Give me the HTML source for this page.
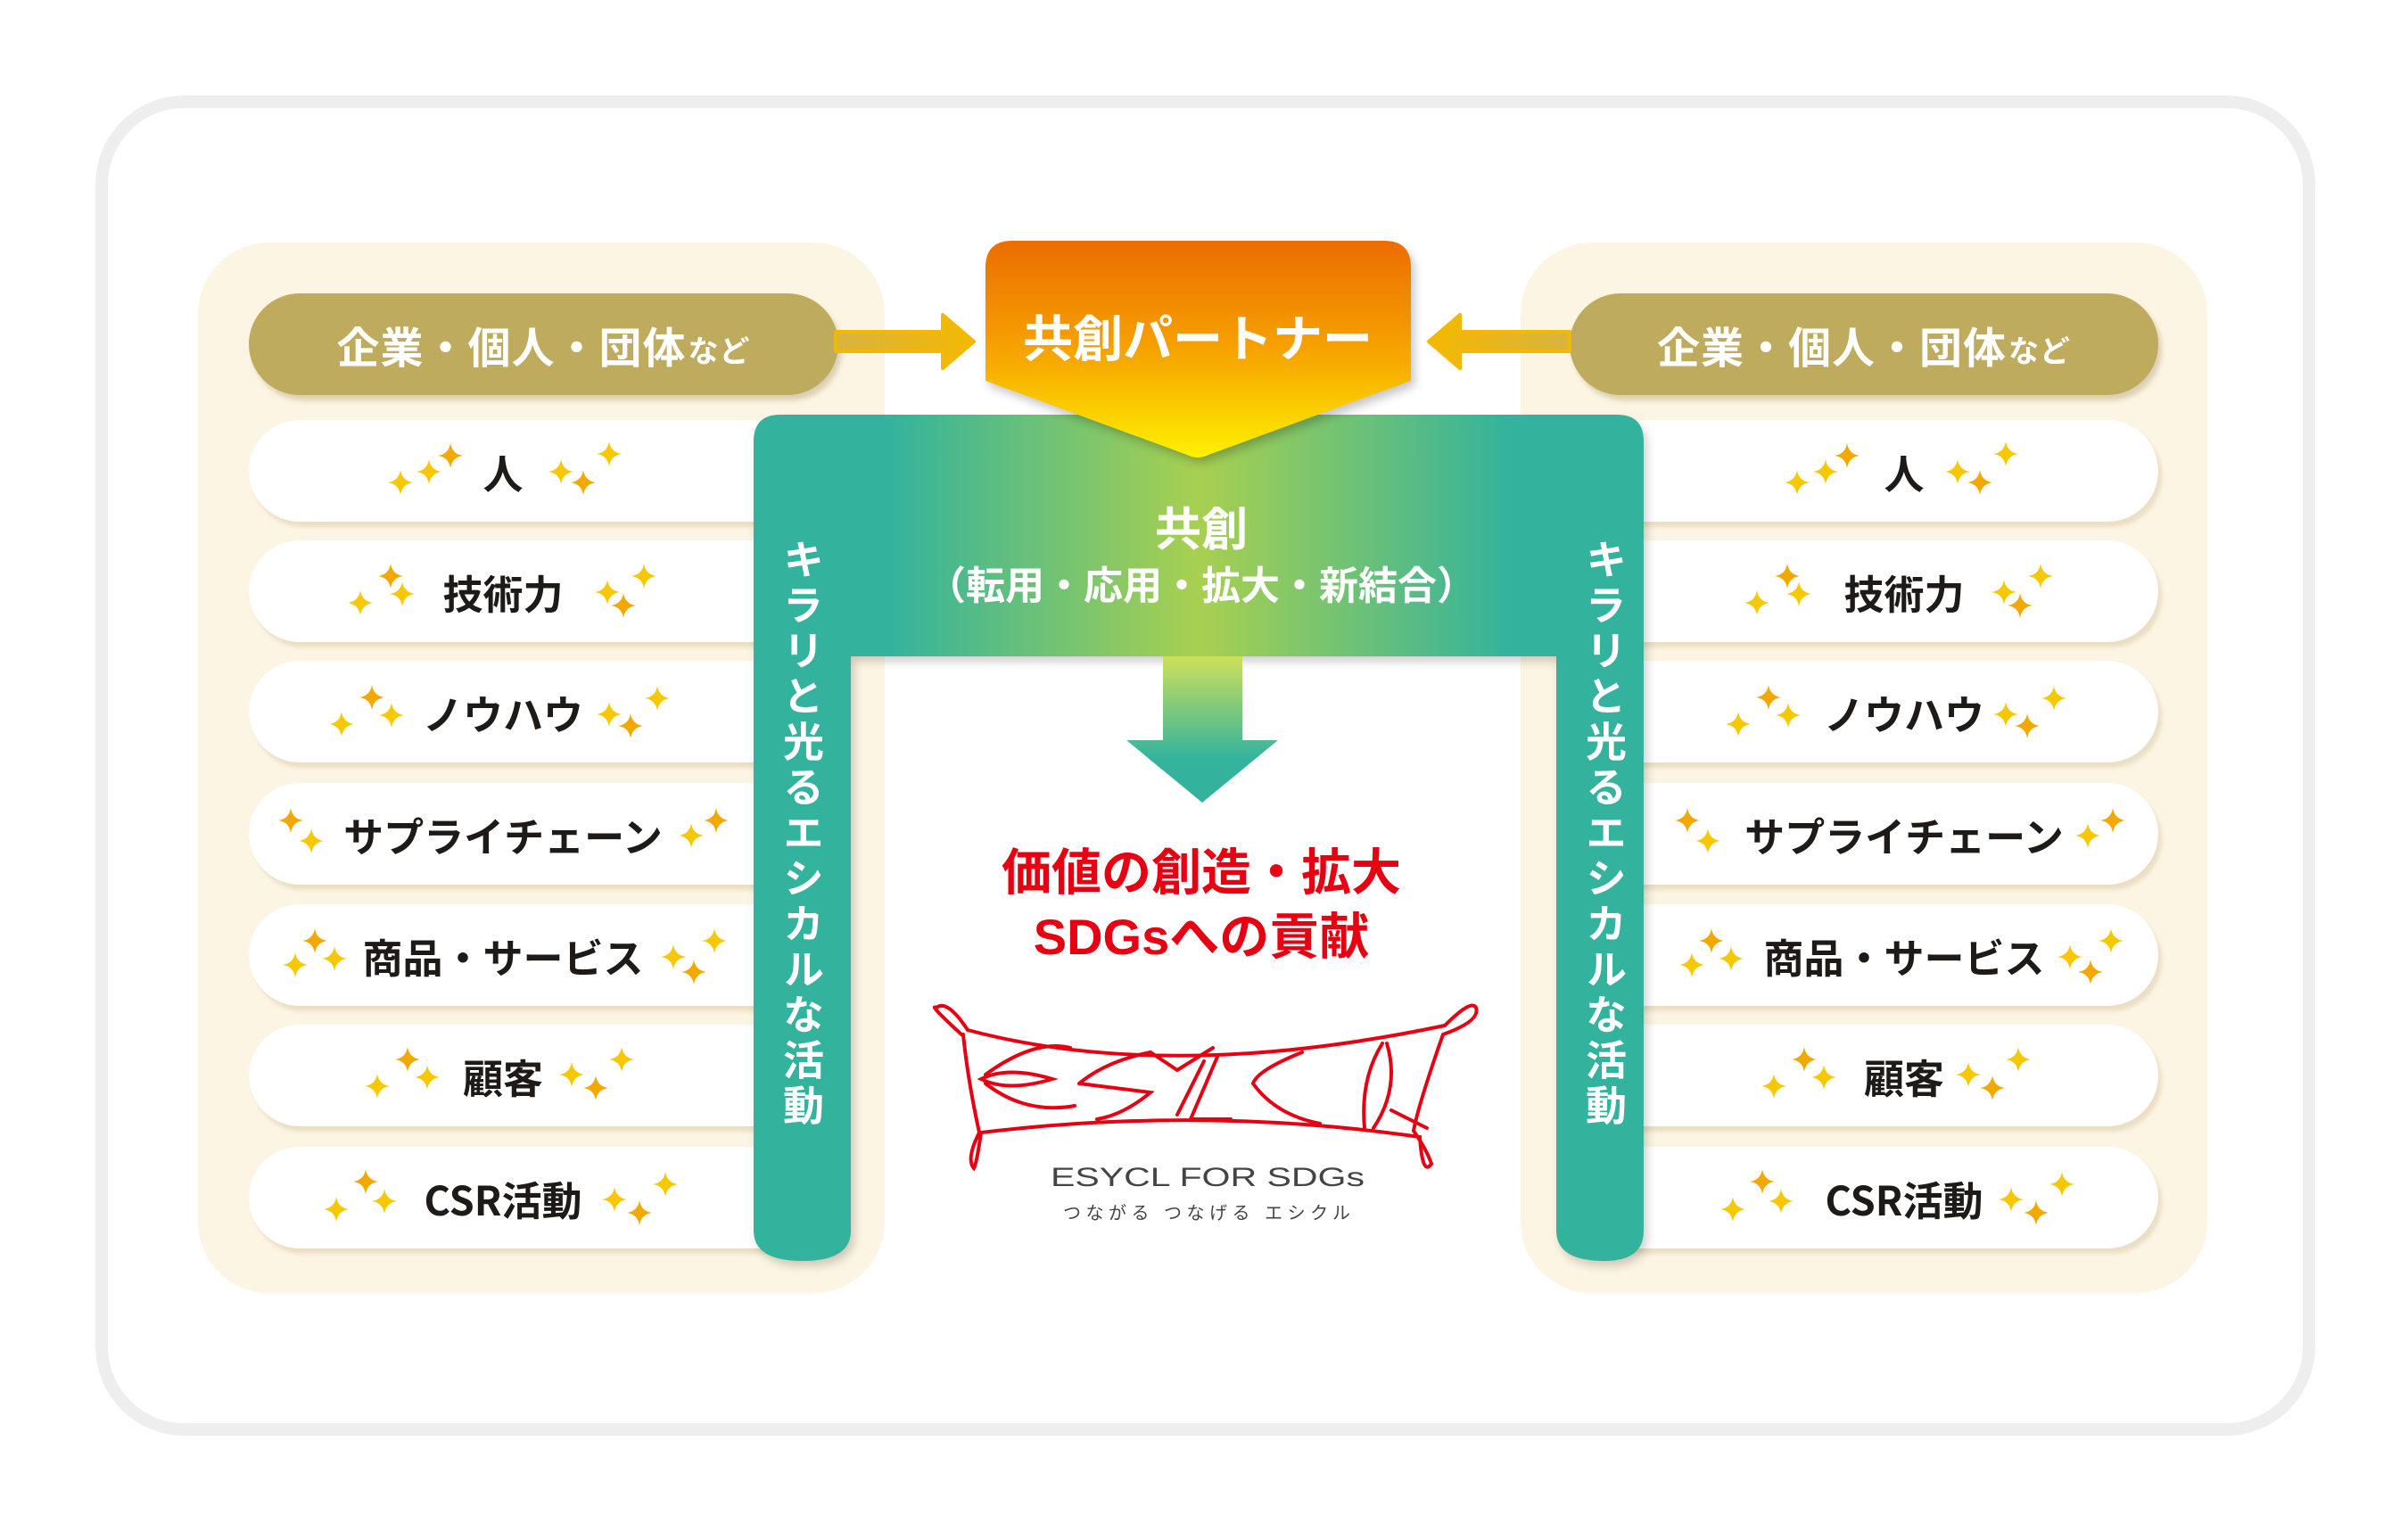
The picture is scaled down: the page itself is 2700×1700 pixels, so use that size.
<!DOCTYPE html>
<html><head><meta charset="utf-8">
<style>
*{margin:0;padding:0;box-sizing:border-box}
body{width:2700px;height:1700px;background:#fff;position:relative;overflow:hidden;font-family:"Liberation Sans","Noto Sans CJK JP",sans-serif}
.abs{position:absolute}
.outer{left:107px;top:107px;width:2489px;height:1503px;border:14px solid #eeeeee;border-radius:100px}
.panel{top:272px;width:770px;height:1178px;background:#fdf5e3;border-radius:80px}
.olive{top:329px;height:114px;background:#bfab5e;border-radius:57px;color:#fff;font-weight:bold;font-size:48px;display:flex;align-items:center;justify-content:center;box-shadow:4px 6px 6px rgba(120,100,40,.25);letter-spacing:1px}
.olive small{font-size:34px;margin-left:2px;margin-top:10px}
.pill{height:114px;background:#fff;border-radius:57px;box-shadow:4px 6px 5px rgba(200,180,140,.35);display:flex;align-items:center;justify-content:center;font-size:45px;font-weight:bold;color:#1e1a18}
.pill .t{position:relative;padding:0 78px;font-family:"Noto Sans CJK JP",sans-serif;font-weight:700}
.vt{writing-mode:vertical-rl;color:#fff;font-size:46px;font-weight:bold;letter-spacing:5px;line-height:1}
</style></head><body>
<svg width="0" height="0" style="position:absolute"><defs>
<symbol id="s" viewBox="-1 -1 2 2"><path d="M0,-1 Q0.13,-0.13 1,0 Q0.13,0.13 0,1 Q-0.13,0.13 -1,0 Q-0.13,-0.13 0,-1Z"/></symbol>
<linearGradient id="og" x1="0" y1="0" x2="0" y2="1"><stop offset="0" stop-color="#ec6c00"/><stop offset="0.55" stop-color="#f6a800"/><stop offset="1" stop-color="#fff100"/></linearGradient>
<linearGradient id="tg" x1="0" y1="0" x2="1" y2="0"><stop offset="0" stop-color="#33b39d"/><stop offset="0.15" stop-color="#33b39d"/><stop offset="0.5" stop-color="#a8d050"/><stop offset="0.85" stop-color="#33b39d"/><stop offset="1" stop-color="#33b39d"/></linearGradient>
<linearGradient id="ag" x1="0" y1="0" x2="0" y2="1"><stop offset="0" stop-color="#cfe05a"/><stop offset="0.7" stop-color="#33b39d"/><stop offset="1" stop-color="#33b39d"/></linearGradient>
<linearGradient id="yl" x1="0" y1="0" x2="1" y2="0"><stop offset="0" stop-color="#d8b440"/><stop offset="1" stop-color="#f4b800"/></linearGradient>
<linearGradient id="yr" x1="1" y1="0" x2="0" y2="0"><stop offset="0" stop-color="#d8b440"/><stop offset="1" stop-color="#f4b800"/></linearGradient>
</defs></svg>

<div class="abs outer"></div>
<div class="abs panel" style="left:222px"></div>
<div class="abs panel" style="left:1705px"></div>

<div class="abs olive" style="left:279px;width:661px">企業・個人・団体<small>など</small></div>
<div class="abs olive" style="left:1760px;width:660px">企業・個人・団体<small>など</small></div>

<svg class="abs" style="left:0;top:0" width="2700" height="1700">
<path d="M937,372 L1057,372 L1057,353 L1092,383 L1057,413 L1057,394 L937,394Z" fill="url(#yl)" stroke="#f4b800" stroke-width="4" stroke-linejoin="round"/>
<path d="M1760,372 L1637,372 L1637,353 L1602,383 L1637,413 L1637,394 L1760,394Z" fill="url(#yr)" stroke="#f4b800" stroke-width="4" stroke-linejoin="round"/>
</svg>

<div class="abs pill" style="left:279px;top:471px;width:660px;padding-right:90px"><span class="t">人</span></div>
<div class="abs pill" style="left:279px;top:606px;width:660px;padding-right:90px"><span class="t">技術力</span></div>
<div class="abs pill" style="left:279px;top:741px;width:660px;padding-right:90px"><span class="t">ノウハウ</span></div>
<div class="abs pill" style="left:279px;top:878px;width:660px;padding-right:90px"><span class="t">サプライチェーン</span></div>
<div class="abs pill" style="left:279px;top:1014px;width:660px;padding-right:90px"><span class="t">商品・サービス</span></div>
<div class="abs pill" style="left:279px;top:1149px;width:660px;padding-right:90px"><span class="t">顧客</span></div>
<div class="abs pill" style="left:279px;top:1286px;width:660px;padding-right:90px"><span class="t">CSR活動</span></div>

<div class="abs pill" style="left:1760px;top:471px;width:660px;padding-left:90px"><span class="t">人</span></div>
<div class="abs pill" style="left:1760px;top:606px;width:660px;padding-left:90px"><span class="t">技術力</span></div>
<div class="abs pill" style="left:1760px;top:741px;width:660px;padding-left:90px"><span class="t">ノウハウ</span></div>
<div class="abs pill" style="left:1760px;top:878px;width:660px;padding-left:90px"><span class="t">サプライチェーン</span></div>
<div class="abs pill" style="left:1760px;top:1014px;width:660px;padding-left:90px"><span class="t">商品・サービス</span></div>
<div class="abs pill" style="left:1760px;top:1149px;width:660px;padding-left:90px"><span class="t">顧客</span></div>
<div class="abs pill" style="left:1760px;top:1286px;width:660px;padding-left:90px"><span class="t">CSR活動</span></div>

<svg class="abs" style="left:0;top:0" width="2700" height="1700">
<g id="sp"><g transform="translate(-3,-4)" fill="#f7c800">
<use href="#s" x="438" y="526" width="28" height="38"/><use href="#s" x="470" y="514" width="28" height="38"/><use href="#s" x="494" y="496" width="28" height="38" fill="#f3a800"/>
<use href="#s" x="618" y="514" width="28" height="38"/><use href="#s" x="643" y="526" width="28" height="38" fill="#f3a800"/><use href="#s" x="672" y="494" width="28" height="38"/>
<use href="#s" x="393" y="661" width="28" height="38"/><use href="#s" x="440" y="651" width="28" height="38"/><use href="#s" x="427" y="631" width="28" height="38" fill="#f3a800"/>
<use href="#s" x="670" y="649" width="28" height="38"/><use href="#s" x="688" y="664" width="28" height="38" fill="#f3a800"/><use href="#s" x="711" y="631" width="28" height="38"/>
<use href="#s" x="372" y="797" width="28" height="38"/><use href="#s" x="428" y="787" width="28" height="38"/><use href="#s" x="406" y="767" width="28" height="38" fill="#f3a800"/>
<use href="#s" x="672" y="786" width="28" height="38"/><use href="#s" x="696" y="799" width="28" height="38" fill="#f3a800"/><use href="#s" x="726" y="768" width="28" height="38"/>
<use href="#s" x="315" y="905" width="28" height="38" fill="#f3a800"/><use href="#s" x="338" y="928" width="28" height="38"/>
<use href="#s" x="764" y="922" width="28" height="38"/><use href="#s" x="792" y="905" width="28" height="38" fill="#f3a800"/>
<use href="#s" x="320" y="1067" width="28" height="38"/><use href="#s" x="364" y="1060" width="28" height="38"/><use href="#s" x="342" y="1040" width="28" height="38" fill="#f3a800"/>
<use href="#s" x="744" y="1058" width="28" height="38"/><use href="#s" x="767" y="1075" width="28" height="38" fill="#f3a800"/><use href="#s" x="790" y="1040" width="28" height="38"/>
<use href="#s" x="412" y="1203" width="28" height="38"/><use href="#s" x="468" y="1193" width="28" height="38"/><use href="#s" x="446" y="1173" width="28" height="38" fill="#f3a800"/>
<use href="#s" x="630" y="1190" width="28" height="38"/><use href="#s" x="657" y="1205" width="28" height="38" fill="#f3a800"/><use href="#s" x="686" y="1173" width="28" height="38"/>
<use href="#s" x="366" y="1341" width="28" height="38"/><use href="#s" x="420" y="1332" width="28" height="38"/><use href="#s" x="399" y="1310" width="28" height="38" fill="#f3a800"/>
<use href="#s" x="678" y="1330" width="28" height="38"/><use href="#s" x="706" y="1345" width="28" height="38" fill="#f3a800"/><use href="#s" x="735" y="1313" width="28" height="38"/>
</g></g>
<use href="#sp" x="1566"/>
</svg>

<svg class="abs" style="left:0;top:0" width="2700" height="1700">
<path d="M845,495 Q845,465 875,465 L1813,465 Q1843,465 1843,495 L1843,1380 Q1843,1414 1799,1414 Q1745,1414 1745,1380 L1745,736 L954,736 L954,1380 Q954,1414 900,1414 Q845,1414 845,1380Z" fill="url(#tg)" filter="drop-shadow(4px 6px 5px rgba(0,0,0,.18))"/>
<path d="M1135,270 L1552,270 Q1582,270 1582,300 L1582,427 L1355,510 Q1343,516 1331,510 L1105,427 L1105,300 Q1105,270 1135,270Z" fill="url(#og)" filter="drop-shadow(4px 6px 5px rgba(0,0,0,.22))"/>
<path d="M1304,736 L1393,736 L1393,830 L1433,830 L1348,900 L1263,830 L1304,830Z" fill="url(#ag)"/>
<text x="1343" y="400" text-anchor="middle" fill="#fff" font-size="56" font-weight="bold" font-family="Liberation Sans,Noto Sans CJK JP,sans-serif">共創パートナー</text>
<text x="1347" y="612" text-anchor="middle" fill="#fff" font-size="52" font-weight="bold" font-family="Liberation Sans,Noto Sans CJK JP,sans-serif">共創</text>
<text x="1347" y="672" text-anchor="middle" fill="#fff" font-size="44" font-weight="bold" font-family="Liberation Sans,Noto Sans CJK JP,sans-serif">（転用・応用・拡大・新結合）</text>
<text x="1347" y="998" text-anchor="middle" fill="#e60012" font-size="56" font-weight="bold" font-family="Liberation Sans,Noto Sans CJK JP,sans-serif">価値の創造・拡大</text>
<text x="1347" y="1070" text-anchor="middle" fill="#e60012" font-size="56" font-weight="bold" font-family="Liberation Sans,Noto Sans CJK JP,sans-serif">SDGsへの貢献</text>
<g fill="none" stroke="#e60012" stroke-width="4" stroke-linecap="round">
<path d="M1078,1160 Q1040,1125 1050,1130 Q1062,1120 1085,1155 Q1310,1215 1620,1150 Q1650,1120 1655,1130 Q1660,1145 1618,1160 Q1590,1240 1585,1268 Q1600,1290 1605,1305 Q1595,1320 1592,1275 Q1350,1240 1100,1270 Q1095,1305 1092,1310 Q1083,1300 1098,1270 Q1085,1210 1080,1160"/>
<path d="M1100,1210 Q1130,1195 1180,1210 Q1130,1225 1100,1210Z"/>
<path d="M1105,1205 Q1160,1165 1200,1175 M1105,1215 Q1150,1250 1205,1240"/>
<path d="M1210,1215 Q1240,1190 1290,1180 L1320,1200 L1360,1175 M1210,1215 L1290,1225 Q1260,1250 1230,1255"/>
<path d="M1350,1190 L1320,1250 M1365,1185 L1335,1255 L1380,1255"/>
<path d="M1460,1180 Q1410,1200 1405,1215 Q1430,1250 1480,1260"/>
<path d="M1550,1170 Q1525,1210 1530,1265 M1555,1170 Q1570,1220 1540,1265 M1560,1245 L1600,1265"/>
</g>
<text x="1178" y="1330" fill="#444" font-size="30" textLength="352" lengthAdjust="spacingAndGlyphs" font-family="Liberation Sans,sans-serif">ESYCL FOR SDGs</text>
<text x="1192" y="1367" fill="#444" font-size="20" textLength="322" lengthAdjust="spacing" font-family="Liberation Sans,Noto Sans CJK JP,sans-serif">つながる つなげる エシクル</text>
</svg>

<div class="abs vt" style="left:875px;top:604px">キラリと光るエシカルな活動</div>
<div class="abs vt" style="left:1775px;top:604px">キラリと光るエシカルな活動</div>
</body></html>
